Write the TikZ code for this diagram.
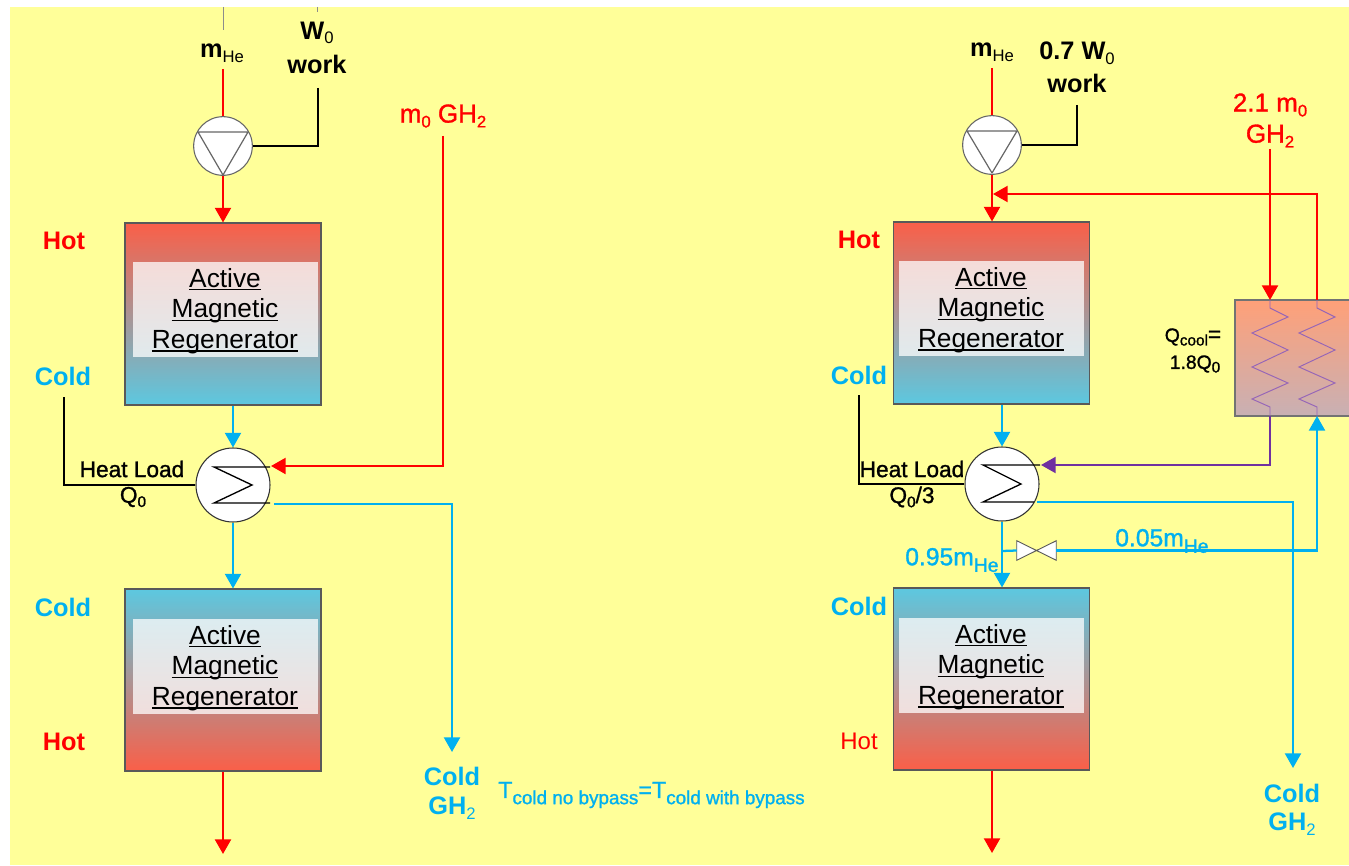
\documentclass[tikz,border=0pt]{standalone}
\usepackage{fontspec}
\setmainfont{Liberation Sans}
\newfontfamily\semif[FakeBold=1.2]{Liberation Sans}
\usetikzlibrary{arrows.meta,calc}
\definecolor{bgy}{HTML}{FFFF99}
\definecolor{hotc}{HTML}{FA5F48}
\definecolor{coldc}{HTML}{5CC8E0}
\definecolor{lblue}{HTML}{00B0F0}
\definecolor{pur}{HTML}{7030A0}
\definecolor{hxtop}{HTML}{FFA078}
\definecolor{hxbot}{HTML}{C8B0B4}
\newcommand{\sbs}[1]{\raisebox{-0.35ex}{\fontsize{12.5}{12.5}\selectfont\mdseries #1}}
\newcommand{\sbb}[1]{\raisebox{-0.35ex}{\fontsize{11.5}{11.5}\selectfont #1}}
\newcommand{\sbl}[1]{\raisebox{-0.5ex}{\fontsize{14.5}{14.5}\selectfont\mdseries #1}}
\newcommand{\ulw}[1]{\setbox0=\hbox{#1}\rlap{\rule[-2.3pt]{\wd0}{1pt}}\box0}
\newcommand{\amrtext}{\ulw{Active}\\\ulw{Magnetic}\\\ulw{Regenerator}}
\tikzset{
  tipb/.style={-{Triangle[width=12pt,length=11pt]}},
  flowred/.style={draw=red,line width=1.7pt},
  flowblue/.style={draw=lblue,line width=1.7pt},
  flowblack/.style={draw=black,line width=1.6pt},
  flowpur/.style={draw=pur,line width=1.7pt},
  amr/.style={rectangle,draw=black!65,line width=.8pt,minimum width=147pt,minimum height=136.5pt,inner sep=0pt},
  amrhot/.style={amr,top color=hotc,bottom color=coldc},
  amrcold/.style={amr,top color=coldc,bottom color=hotc},
  panel/.style={rectangle,fill=white,fill opacity=.75,minimum width=138.75pt,minimum height=71.25pt,inner sep=0pt},
  amrlab/.style={inner sep=0pt,align=center,font=\fontsize{19.7}{23}\selectfont},
  disc/.style={circle,draw=black!80,fill=white,line width=.8pt,inner sep=0pt},
  pumpc/.style={disc,draw=black!60,minimum size=44pt},
  hxc/.style={disc,minimum size=55.5pt},
  lab/.style={font=\fontsize{19}{19}\selectfont\bfseries,inner sep=0pt,align=center},
  labr/.style={font=\fontsize{19.5}{19.5}\semif,inner sep=0pt,align=center},
  small/.style={font=\fontsize{17}{17}\semif,inner sep=0pt,align=center},
  coil/.style={draw=pur!75,line width=.7pt,line join=miter},
}
\begin{document}
\begin{tikzpicture}[x=.75pt,y=-.75pt]
\useasboundingbox (0,0) rectangle (1349,866);
\fill[white] (0,0) rectangle (1349,866);
\fill[bgy] (10,7) rectangle (1349,865);

% faint stubs at the top
\draw[black!45,line width=.6pt] (223,7) -- (223,30);
\draw[black!45,line width=.6pt] (317,7) -- (317,12);

% regenerators
\node[amrhot] (b1) at (223,314) {};
\node[amrcold] (b2) at (223,680) {};
\node[amrhot] (b3) at (991.5,313) {};
\node[amrcold] (b4) at (991.5,679) {};
\node[panel] (p1) at (225.5,309.5) {};
\node[panel] (p2) at (225.5,666.5) {};
\node[panel] (p3) at (991,308.5) {};
\node[panel] (p4) at (991,665.5) {};
\node[amrlab] (q1) at (225,311) {\amrtext};
\node[amrlab] (q2) at (225,668) {\amrtext};
\node[amrlab] (q3) at (991,310) {\amrtext};
\node[amrlab] (q4) at (991,667) {\amrtext};

% cooling heat exchanger
\shade[top color=hxtop,bottom color=hxbot] (1235,300) rectangle (1349,416);
\draw[black!55,line width=.8pt] (1349,300) -- (1235,300) -- (1235,416) -- (1349,416);
\coordinate (c1t) at (1270,300);
\coordinate (c1b) at (1270,416);
\coordinate (c2t) at (1317,300);
\coordinate (c2b) at (1317,416);
\draw[coil] (c1t) -- (1270,308) -- (1288,317) -- (1252,333) -- (1288,350) -- (1252,367) -- (1288,383) -- (1252,399) -- (1270,407) -- (c1b);
\draw[coil] (c2t) -- (1317,308) -- (1335,317) -- (1299,333) -- (1335,350) -- (1299,367) -- (1335,383) -- (1299,399) -- (1317,407) -- (c2b);

% pumps and exchangers
\node[pumpc] (pu1) at (223,146) {};
\node[pumpc] (pu2) at (992,145) {};
\node[hxc] (hx1) at (233,485) {};
\node[hxc] (hx2) at (1002,484) {};
\draw[black!60,line width=.9pt,line join=round] (198,132) -- (248,132) -- (223,175) -- cycle;
\draw[black!60,line width=.9pt,line join=round] (967,131) -- (1017,131) -- (992,173) -- cycle;
\draw[black,line width=1pt] (270,467) -- (214,467) -- (252,485) -- (214,503) -- (270,503);
\draw[black,line width=1pt] (1040,465) -- (983,465) -- (1021,484) -- (983,502) -- (1034,502);

% valve
\node[minimum width=29.25pt,minimum height=14.25pt,inner sep=0pt] (val) at (1036.5,550.5) {};
\draw[black!65,fill=white,line width=.7pt,line join=miter] (val.north west) -- (val.south east) -- (val.north east) -- (val.south west) -- cycle;

% free ends
\coordinate (a1) at (223,69);
\coordinate (a2) at (318,88);
\coordinate (a3) at (443,136);
\coordinate (a4) at (274,504);
\coordinate (a5) at (452,752);
\coordinate (a6) at (223,854);
\coordinate (a7) at (64,397);
\coordinate (a8) at (992,68);
\coordinate (a9) at (1077,105);
\coordinate (a10) at (1270,149);
\coordinate (a11) at (859,395);
\coordinate (a12) at (1037,502);
\coordinate (a13) at (1293,768);
\coordinate (a14) at (992,853);
\coordinate (h1in) at (271,466);
\coordinate (h2in) at (1041,465);
\coordinate (j1) at (993,194);
\coordinate (j2) at (1002,551);

% left circuit
\draw[flowred] (a1) -- (pu1.north);
\draw[flowred,tipb] (pu1.south) -- (b1.north);
\draw[flowblack,line join=miter] (a2) |- (pu1.east);
\draw[flowred,tipb] (a3) |- (h1in);
\draw[flowblue,tipb] (b1.south -| hx1.north) -- (hx1.north);
\draw[flowblue,tipb] (hx1.south) -- (b2.north -| hx1.south);
\draw[flowblack] (a7) |- (hx1.west);
\draw[flowblue,tipb] (a4) -| (a5);
\draw[flowred,tipb] (b2.south) -- (a6);

% right circuit
\draw[flowred] (a8) -- (pu2.north);
\draw[flowred,tipb] (pu2.south) -- (b3.north -| pu2.south);
\draw[flowblack] (a9) |- (pu2.east);
\draw[flowred,tipb] (a10) -- (c1t);
\draw[flowred,tipb] (c2t) |- (j1);
\draw[flowblue,tipb] (b3.south -| hx2.north) -- (hx2.north);
\draw[flowblue,tipb] (hx2.south) -- (b4.north -| hx2.south);
\draw[flowblack] (a11) |- (hx2.west);
\draw[flowpur,tipb] (c1b) |- (h2in);
\draw[flowblue,tipb] (a12) -| (a13);
\draw[flowblue] (j2) -- (val.west);
\draw[flowblue,tipb] (val.east) -| (c2b);
\draw[flowred,tipb] (b4.south -| a14) -- (a14);

% labels, left
\node[lab] (t1) at (222,53) {m\sbs{He}};
\node[lab] (t2) at (317,33) {W\sbs{0}};
\node[lab] (t3) at (317,64) {work};
\node[labr,text=red] (t4) at (443,116) {m\sbs{0} GH\sbs{2}};
\node[lab,text=red] (t5) at (64,241) {Hot};
\node[lab,text=lblue] (t6) at (63,376) {Cold};
\node[lab,text=lblue] (t7) at (63,607) {Cold};
\node[lab,text=red] (t8) at (64,742) {Hot};
\node[small] (t9) at (132,469) {Heat Load};
\node[small] (t10) at (133,497) {Q\sbb{0}};
\node[lab,text=lblue] (t11) at (452,776) {Cold};
\node[lab,text=lblue] (t12) at (452,808) {GH\sbs{2}};
\node[labr,text=lblue,anchor=west,font=\fontsize{17.5}{17.5}\semif] (t13) at (498,795) {T\raisebox{-.5ex}{\fontsize{14.15}{14.15}\selectfont cold no bypass}=T\raisebox{-.5ex}{\fontsize{14.15}{14.15}\selectfont cold with bypass}};

% labels, right
\node[lab] (u1) at (992,52) {m\sbs{He}};
\node[lab] (u2) at (1077,53) {0.7 W\sbs{0}};
\node[lab] (u3) at (1077,83) {work};
\node[labr,text=red] (u4) at (1270,105) {2.1 m\sbs{0}};
\node[labr,text=red] (u5) at (1270,136) {GH\sbs{2}};
\node[lab,text=red] (u6) at (859,240) {Hot};
\node[lab,text=lblue] (u7) at (859,375) {Cold};
\node[lab,text=lblue] (u8) at (859,606) {Cold};
\node[labr,text=red,font=\fontsize{18}{18}\selectfont] (u9) at (859,741) {Hot};
\node[small] (u10) at (912,469) {Heat Load};
\node[small] (u11) at (912,497) {Q\sbb{0}/3};
\node[small,font=\fontsize{14.5}{14.5}\semif] (u12) at (1193,337) {Q\sbb{cool}\fontsize{17}{17}\selectfont=};
\node[small,font=\fontsize{14.5}{14.5}\semif] (u13) at (1195,364) {1.8Q\sbb{0}};
\node[lab,text=lblue,anchor=west,font=\fontsize{18.5}{18.5}\semif] (u14) at (905,560) {0.95m\sbl{He}};
\node[lab,text=lblue,anchor=west,font=\fontsize{18.5}{18.5}\semif] (u15) at (1115,541) {0.05m\sbl{He}};
\node[lab,text=lblue] (u16) at (1292,793) {Cold};
\node[lab,text=lblue] (u17) at (1292,824) {GH\sbs{2}};
\end{tikzpicture}
\end{document}
